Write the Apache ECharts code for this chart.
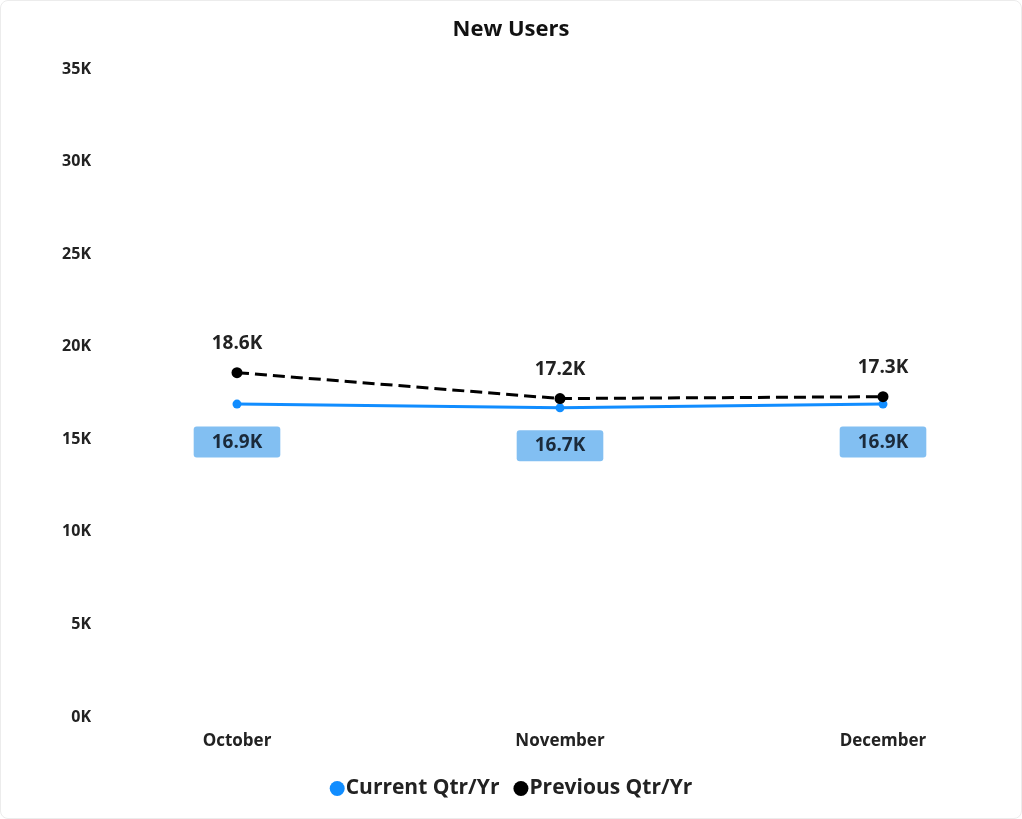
<!DOCTYPE html>
<html>
<head>
<meta charset="utf-8">
<script src="https://cdn.jsdelivr.net/npm/echarts@6/dist/echarts.min.js"></script>
<style>
  html, body { margin: 0; padding: 0; background: #fff; }
  #chart { width: 1022px; height: 819px; box-sizing: border-box; border: 1px solid #ececec; border-radius: 8px; }
</style>
</head>
<body>
<div id="chart"></div>
<script>
const months = ["October", "November", "December"];
const currentQtr = [16900, 16700, 16900];
const previousQtr = [18600, 17200, 17300];

const chart = echarts.init(document.getElementById("chart"));
const font = "'Open Sans', 'Noto Sans', sans-serif";
const fmtK = (v) => (v / 1000).toFixed(1) + "K";

chart.setOption({
  animation: false,
  title: {
    text: "New Users",
    left: "center",
    top: 13,
    textStyle: { fontFamily: font, fontSize: 22, fontWeight: "bold", color: "#111" },
  },
  grid: { left: 236, right: 138, top: 68, bottom: 101 },
  legend: {
    bottom: 14,
    left: "center",
    itemGap: 14,
    itemWidth: 15,
    itemHeight: 15,
    icon: "circle",
    textStyle: { fontFamily: font, fontSize: 21, fontWeight: "bold", color: "#222", padding: [0, 0, 0, -4] },
    data: ["Current Qtr/Yr", "Previous Qtr/Yr"],
  },
  xAxis: {
    type: "category",
    data: months,
    boundaryGap: false,
    axisLine: { show: false },
    axisTick: { show: false },
    axisLabel: { fontFamily: font, fontSize: 17, fontWeight: "bold", color: "#222", margin: 16 },
  },
  yAxis: {
    type: "value",
    min: 0,
    max: 35000,
    interval: 5000,
    splitLine: { show: false },
    axisLabel: {
      fontFamily: font,
      fontSize: 16,
      fontWeight: "bold",
      color: "#222",
      margin: 146,
      formatter: (v) => v / 1000 + "K",
    },
  },
  series: [
    {
      name: "Current Qtr/Yr",
      type: "line",
      data: currentQtr,
      symbol: "circle",
      symbolSize: 9,
      itemStyle: { color: "#118dff" },
      lineStyle: { color: "#118dff", width: 3 },
      label: {
        show: true,
        position: "bottom",
        distance: 18,
        formatter: (p) => fmtK(p.value),
        fontFamily: font,
        fontSize: 19,
        fontWeight: "bold",
        color: "#1b2a3a",
        backgroundColor: "#82bff2",
        borderRadius: 3,
        padding: [6, 18, 6, 18],
      },
      z: 3,
    },
    {
      name: "Previous Qtr/Yr",
      type: "line",
      data: previousQtr,
      symbol: "circle",
      symbolSize: 11,
      itemStyle: { color: "#000" },
      lineStyle: { color: "#000", width: 3, type: [12, 6] },
      label: {
        show: true,
        position: "top",
        distance: 14,
        formatter: (p) => fmtK(p.value),
        fontFamily: font,
        fontSize: 19,
        fontWeight: "bold",
        color: "#222",
      },
      z: 4,
    },
  ],
});

window.addEventListener("resize", () => chart.resize());
</script>
</body>
</html>
